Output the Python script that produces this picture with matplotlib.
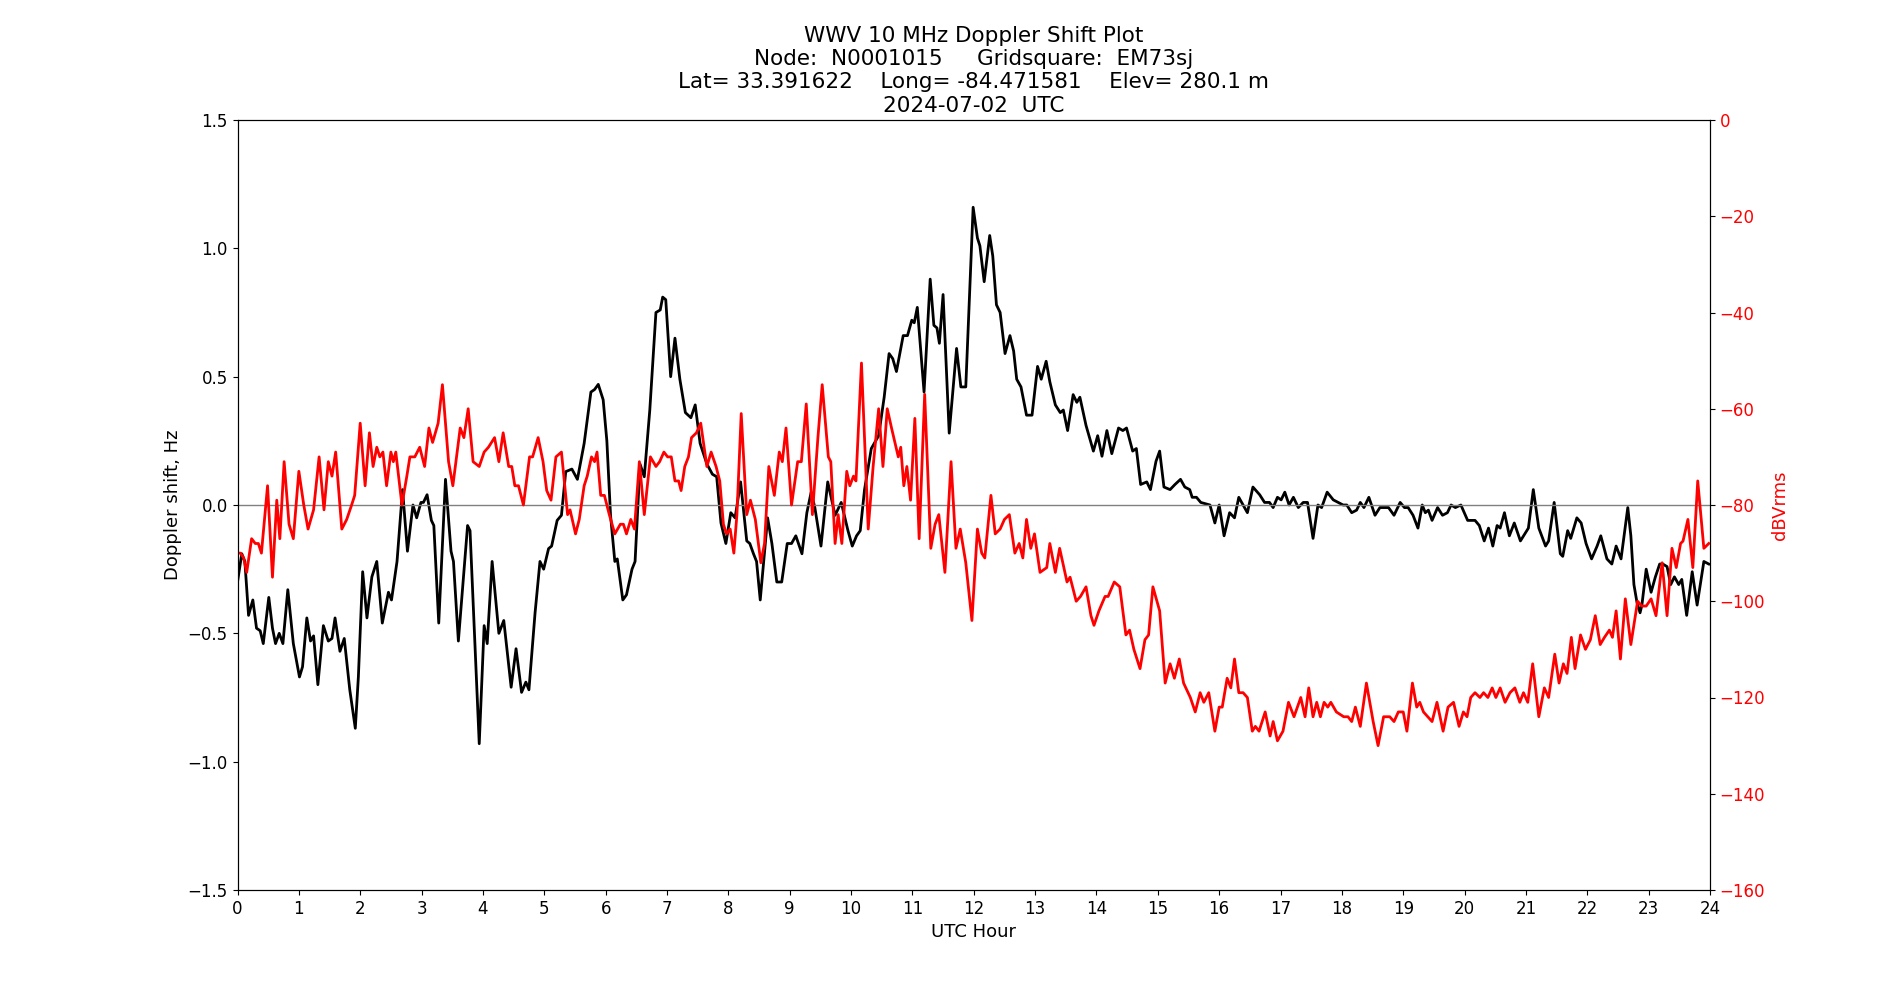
import matplotlib
matplotlib.use("Agg")
import matplotlib.pyplot as plt
import numpy as np

plt.rcParams['font.size'] = 12

# Doppler shift (black) — UTC hour, Hz
hours_doppler = [
 0.00,0.07,0.12,0.18,0.25,0.31,0.37,0.42,0.51,0.57,0.62,0.68,0.74,0.82,0.91,1.01,1.06,1.13,1.19,1.24,
 1.31,1.40,1.48,1.54,1.59,1.67,1.74,1.83,1.92,1.97,2.04,2.11,2.19,2.27,2.36,2.46,2.51,2.60,2.69,2.77,
 2.86,2.92,2.99,3.03,3.09,3.16,3.20,3.28,3.39,3.48,3.52,3.60,3.75,3.79,3.94,4.02,4.07,4.15,4.26,4.34,
 4.46,4.54,4.63,4.70,4.75,4.85,4.93,4.99,5.07,5.12,5.21,5.28,5.35,5.45,5.54,5.65,5.76,5.82,5.88,5.96,
 6.02,6.08,6.15,6.19,6.28,6.34,6.43,6.48,6.56,6.63,6.72,6.82,6.89,6.93,6.98,7.06,7.13,7.21,7.30,7.39,
 7.46,7.54,7.65,7.74,7.81,7.88,7.96,8.04,8.11,8.20,8.30,8.35,8.41,8.46,8.52,8.64,8.71,8.79,8.87,8.96,
 9.03,9.10,9.20,9.28,9.35,9.41,9.51,9.62,9.74,9.84,9.95,10.02,10.09,10.15,10.22,10.33,10.45,10.54,10.62,10.68,
 10.74,10.85,10.92,10.99,11.03,11.08,11.19,11.29,11.35,11.40,11.44,11.50,11.60,11.72,11.79,11.87,11.99,12.06,12.10,12.17,
 12.26,12.31,12.37,12.43,12.51,12.59,12.65,12.70,12.77,12.86,12.95,13.04,13.10,13.18,13.24,13.33,13.41,13.46,13.53,13.62,
 13.68,13.73,13.83,13.95,14.02,14.09,14.17,14.25,14.36,14.43,14.49,14.59,14.65,14.72,14.82,14.88,14.97,15.03,15.10,15.20,
 15.28,15.37,15.44,15.52,15.56,15.63,15.70,15.85,15.93,16.00,16.08,16.17,16.25,16.32,16.39,16.46,16.55,16.66,16.74,16.82,
 16.88,16.95,17.01,17.07,17.14,17.21,17.29,17.37,17.44,17.53,17.61,17.67,17.76,17.86,17.94,18.02,18.08,18.16,18.24,18.30,
 18.36,18.44,18.54,18.62,18.76,18.85,18.95,19.02,19.08,19.16,19.24,19.31,19.36,19.41,19.47,19.56,19.64,19.72,19.78,19.85,
 19.94,20.05,20.17,20.24,20.32,20.39,20.46,20.53,20.58,20.65,20.73,20.81,20.91,21.04,21.12,21.21,21.32,21.37,21.46,21.56,
 21.60,21.68,21.73,21.83,21.90,21.98,22.07,22.16,22.22,22.32,22.40,22.47,22.55,22.66,22.71,22.76,22.81,22.86,22.89,22.96,
 23.04,23.11,23.18,23.23,23.30,23.36,23.42,23.49,23.54,23.62,23.71,23.79,23.90,23.98]
doppler_hz = [
 -0.30,-0.19,-0.22,-0.43,-0.37,-0.48,-0.49,-0.54,-0.36,-0.48,-0.54,-0.50,-0.54,-0.33,-0.54,-0.67,-0.63,-0.44,-0.53,-0.51,
 -0.70,-0.47,-0.53,-0.52,-0.44,-0.57,-0.52,-0.72,-0.87,-0.67,-0.26,-0.44,-0.28,-0.22,-0.46,-0.34,-0.37,-0.22,0.06,-0.18,
 0.00,-0.05,0.01,0.01,0.04,-0.06,-0.08,-0.46,0.10,-0.18,-0.22,-0.53,-0.08,-0.10,-0.93,-0.47,-0.54,-0.22,-0.50,-0.45,
 -0.71,-0.56,-0.73,-0.69,-0.72,-0.42,-0.22,-0.25,-0.17,-0.16,-0.06,-0.04,0.13,0.14,0.10,0.24,0.44,0.45,0.47,0.41,
 0.25,-0.04,-0.22,-0.21,-0.37,-0.35,-0.25,-0.22,0.16,0.11,0.37,0.75,0.76,0.81,0.80,0.50,0.65,0.49,0.36,0.34,
 0.39,0.24,0.16,0.12,0.11,-0.07,-0.15,-0.03,-0.05,0.09,-0.14,-0.15,-0.19,-0.22,-0.37,-0.05,-0.15,-0.30,-0.30,-0.15,
 -0.15,-0.12,-0.19,-0.03,0.05,-0.01,-0.16,0.09,-0.04,0.01,-0.10,-0.16,-0.12,-0.10,0.06,0.22,0.27,0.42,0.59,0.57,
 0.52,0.66,0.66,0.72,0.71,0.77,0.44,0.88,0.70,0.69,0.63,0.82,0.28,0.61,0.46,0.46,1.16,1.04,1.01,0.87,
 1.05,0.97,0.78,0.75,0.59,0.66,0.60,0.49,0.46,0.35,0.35,0.54,0.49,0.56,0.48,0.39,0.36,0.37,0.29,0.43,
 0.40,0.42,0.31,0.21,0.27,0.19,0.29,0.20,0.30,0.29,0.30,0.21,0.22,0.08,0.09,0.06,0.17,0.21,0.07,0.06,
 0.08,0.10,0.07,0.06,0.03,0.03,0.01,0.00,-0.07,0.00,-0.12,-0.03,-0.05,0.03,0.00,-0.03,0.07,0.04,0.01,0.01,
 -0.01,0.03,0.02,0.05,0.00,0.03,-0.01,0.01,0.01,-0.13,0.00,-0.01,0.05,0.02,0.01,0.00,0.00,-0.03,-0.02,0.01,
 -0.01,0.03,-0.04,-0.01,-0.01,-0.04,0.01,-0.01,-0.01,-0.04,-0.09,0.00,-0.03,-0.02,-0.06,-0.01,-0.04,-0.03,0.00,-0.01,
 0.00,-0.06,-0.06,-0.08,-0.14,-0.09,-0.16,-0.08,-0.09,-0.03,-0.12,-0.07,-0.14,-0.09,0.06,-0.09,-0.16,-0.14,0.01,-0.19,
 -0.20,-0.10,-0.13,-0.05,-0.07,-0.15,-0.21,-0.16,-0.12,-0.21,-0.23,-0.16,-0.21,-0.01,-0.12,-0.31,-0.38,-0.42,-0.39,-0.25,
 -0.34,-0.28,-0.23,-0.23,-0.24,-0.31,-0.28,-0.31,-0.29,-0.43,-0.26,-0.39,-0.22,-0.23]

# Received power (red) — UTC hour, dBVrms
hours_power = [
 0.00,0.05,0.10,0.15,0.23,0.29,0.34,0.39,0.49,0.57,0.64,0.69,0.76,0.84,0.91,1.00,1.08,1.15,1.24,1.33,
 1.41,1.48,1.54,1.60,1.70,1.78,1.86,1.91,2.00,2.08,2.15,2.21,2.27,2.32,2.37,2.43,2.50,2.54,2.58,2.68,
 2.76,2.81,2.89,2.97,3.05,3.12,3.18,3.27,3.34,3.44,3.51,3.63,3.69,3.76,3.84,3.94,4.02,4.09,4.19,4.26,
 4.33,4.42,4.47,4.52,4.58,4.66,4.76,4.81,4.90,4.98,5.04,5.11,5.19,5.28,5.38,5.42,5.51,5.57,5.65,5.70,
 5.77,5.82,5.86,5.92,5.98,6.06,6.15,6.24,6.29,6.34,6.41,6.47,6.55,6.63,6.73,6.82,6.88,6.95,7.01,7.07,
 7.13,7.19,7.23,7.29,7.35,7.40,7.48,7.55,7.65,7.72,7.80,7.86,7.92,7.97,8.03,8.09,8.14,8.21,8.30,8.36,
 8.44,8.53,8.59,8.66,8.75,8.83,8.88,8.94,9.03,9.13,9.19,9.27,9.37,9.46,9.53,9.63,9.67,9.74,9.79,9.85,
 9.93,9.98,10.04,10.08,10.17,10.28,10.36,10.45,10.52,10.59,10.66,10.77,10.81,10.86,10.91,10.97,11.04,11.11,11.20,11.30,
 11.37,11.43,11.53,11.63,11.71,11.78,11.87,11.97,12.06,12.13,12.18,12.28,12.35,12.43,12.50,12.58,12.67,12.74,12.80,12.86,
 12.93,12.99,13.08,13.19,13.24,13.33,13.40,13.52,13.57,13.67,13.74,13.83,13.91,13.96,14.04,14.14,14.19,14.29,14.38,14.48,
 14.54,14.61,14.71,14.79,14.85,14.92,15.03,15.12,15.20,15.27,15.35,15.42,15.53,15.61,15.69,15.75,15.83,15.93,16.00,16.05,
 16.13,16.19,16.25,16.32,16.39,16.46,16.54,16.59,16.65,16.75,16.83,16.88,16.95,17.04,17.13,17.22,17.33,17.40,17.46,17.53,
 17.59,17.65,17.71,17.77,17.82,17.91,18.03,18.10,18.16,18.22,18.30,18.40,18.51,18.59,18.68,18.78,18.85,18.92,19.00,19.06,
 19.15,19.22,19.27,19.33,19.47,19.55,19.65,19.73,19.82,19.91,19.98,20.04,20.10,20.17,20.25,20.31,20.38,20.45,20.51,20.58,
 20.66,20.74,20.82,20.90,20.96,21.03,21.11,21.21,21.30,21.37,21.47,21.54,21.61,21.67,21.74,21.80,21.89,21.97,22.05,22.13,
 22.21,22.28,22.36,22.41,22.47,22.54,22.62,22.71,22.82,22.89,22.96,23.04,23.12,23.22,23.30,23.38,23.45,23.52,23.56,23.64,
 23.72,23.80,23.90,23.98]
power_dbv = [
 -90,-90,-91,-94,-87,-88,-88,-90,-76,-95,-79,-87,-71,-84,-87,-73,-80,-85,-81,-70,
 -81,-71,-74,-69,-85,-83,-80,-78,-63,-76,-65,-72,-68,-70,-69,-76,-69,-71,-69,-80,
 -74,-70,-70,-68,-72,-64,-67,-63,-55,-71,-76,-64,-66,-60,-71,-72,-69,-68,-66,-71,
 -65,-72,-72,-76,-76,-80,-70,-70,-66,-71,-77,-79,-70,-69,-82,-81,-86,-83,-76,-74,
 -70,-71,-69,-78,-78,-82,-86,-84,-84,-86,-83,-85,-71,-82,-70,-72,-71,-69,-70,-70,
 -75,-75,-77,-72,-70,-66,-65,-63,-72,-69,-72,-75,-84,-86,-85,-90,-82,-61,-82,-79,
 -83,-92,-88,-72,-78,-69,-71,-64,-80,-71,-71,-59,-82,-66,-55,-70,-71,-88,-82,-88,
 -73,-76,-74,-75,-50.5,-85,-72,-60,-72,-60,-64,-70,-68,-76,-72,-79,-62,-87,-57,-89,
 -84,-82,-94,-71,-89,-85,-92,-104,-85,-90,-91,-78,-86,-85,-83,-82,-90,-88,-91,-83,
 -89,-86,-94,-93,-88,-94,-89,-96,-95,-100,-99,-97,-103,-105,-102,-99,-99,-96,-97,-107,
 -106,-110,-114,-108,-107,-97,-102,-117,-113,-116,-112,-117,-120,-123,-119,-121,-119,-127,-122,-122,
 -116,-118,-112,-119,-119,-120,-127,-126,-127,-123,-128,-125,-129,-127,-121,-124,-120,-124,-118,-124,
 -121,-124,-121,-122,-121,-123,-124,-124,-125,-122,-126,-117,-125,-130,-124,-124,-125,-123,-123,-127,
 -117,-122,-121,-123,-125,-121,-127,-122,-121,-126,-123,-124,-120,-119,-120,-119,-120,-118,-120,-118,
 -121,-119,-118,-121,-119,-121,-113,-124,-118,-120,-111,-117,-113,-115,-107.5,-114,-107,-110,-108,-103,
 -109,-107.5,-106,-107.5,-102,-112,-99.5,-109,-100,-101,-101,-99.5,-103,-92,-103,-89,-93,-88,-87.5,-83,
 -93,-75,-89,-88]

hour_ticks = list(range(0, 25))
doppler_ticks = [-1.5, -1.0, -0.5, 0.0, 0.5, 1.0, 1.5]
power_ticks = [0, -20, -40, -60, -80, -100, -120, -140, -160]

title = ("WWV 10 MHz Doppler Shift Plot\n"
         "Node:  N0001015     Gridsquare:  EM73sj\n"
         "Lat= 33.391622    Long= -84.471581    Elev= 280.1 m\n"
         "2024-07-02  UTC")

fig, ax = plt.subplots(figsize=(19, 10), dpi=100)
ax.plot(hours_doppler, doppler_hz, color='black', linewidth=2)
ax.axhline(0, color='gray', linewidth=1)
ax.set_xlim(0, 24)
ax.set_ylim(-1.5, 1.5)
ax.set_xticks(hour_ticks)
ax.set_yticks(doppler_ticks)
ax.set_xlabel('UTC Hour', fontsize=13)
ax.set_ylabel('Doppler shift, Hz', fontsize=13)
ax.set_title(title, fontsize=15.5)

ax2 = ax.twinx()
ax2.plot(hours_power, power_dbv, color='red', linewidth=2)
ax2.set_ylim(-160, 0)
ax2.set_yticks(power_ticks)
ax2.set_ylabel('dBVrms', color='red', fontsize=13)
ax2.tick_params(axis='y', labelcolor='red')

fig.savefig('out.png', dpi=100)
